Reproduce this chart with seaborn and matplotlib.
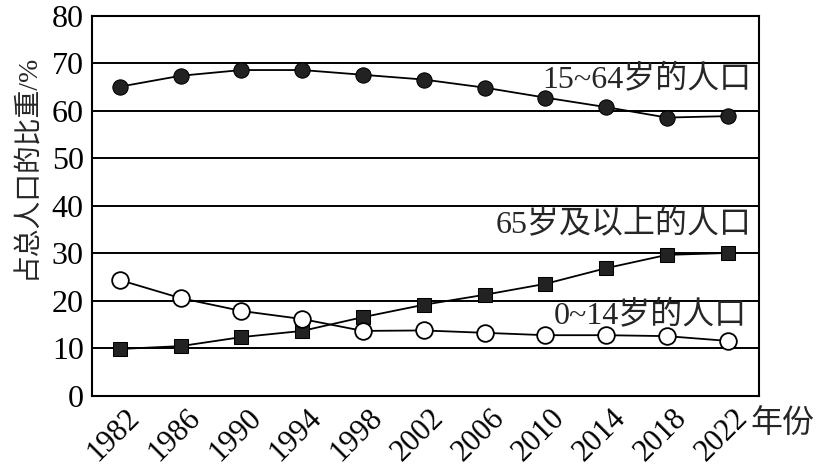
import matplotlib
matplotlib.use("Agg")
import matplotlib.pyplot as plt
import matplotlib.transforms as mtransforms
import seaborn as sns

# 数据
years = [1982, 1986, 1990, 1994, 1998, 2002, 2006, 2010, 2014, 2018, 2022]
age_15_64 = [65.1, 67.4, 68.6, 68.6, 67.6, 66.6, 64.9, 62.8, 60.8, 58.6, 58.9]
age_0_14 = [24.4, 20.6, 17.9, 16.2, 13.7, 13.8, 13.3, 12.8, 12.8, 12.6, 11.6]
age_65_up = [9.9, 10.5, 12.4, 13.7, 16.6, 19.2, 21.3, 23.6, 26.9, 29.7, 30.1]
yticks = [0, 10, 20, 30, 40, 50, 60, 70, 80]

sns.set_style("white")
fam = ["Liberation Serif", "Noto Sans CJK SC"]
plt.rcParams["font.family"] = fam

fig = plt.figure(figsize=(8.33, 4.67), dpi=100)
ax = fig.add_axes([0.1104, 0.152, 0.8003, 0.814])

ax.set_ylim(0, 80)
ax.set_xlim(1980.16, 2024.04)
ax.set_yticks(yticks)
ax.yaxis.grid(True, color="black", linewidth=1.4)
ax.set_axisbelow(True)

sns.lineplot(x=years, y=age_15_64, ax=ax, color="black", linewidth=1.3,
             marker="o", markersize=11, markerfacecolor="#222222",
             markeredgecolor="black")
sns.lineplot(x=years, y=age_65_up, ax=ax, color="black", linewidth=1.3,
             marker="s", markersize=10, markerfacecolor="#222222",
             markeredgecolor="black")
sns.lineplot(x=years, y=age_0_14, ax=ax, color="black", linewidth=1.3,
             marker="o", markersize=12, markerfacecolor="white",
             markeredgecolor="black", markeredgewidth=1.3)

for s in ax.spines.values():
    s.set_color("black")
    s.set_linewidth(1.5)

ax.set_xticks(years)
ax.set_xticklabels([str(y) for y in years], rotation=45, ha="right",
                   rotation_mode="anchor", fontsize=22)
ax.tick_params(axis="x", direction="in", length=10, width=1.3, pad=4,
               colors="black")
ax.tick_params(axis="y", length=0, pad=6, labelsize=23, colors="black")
shift = mtransforms.ScaledTranslation(5 / 100, -2 / 100, fig.dpi_scale_trans)
for lab in ax.get_xticklabels():
    lab.set_transform(lab.get_transform() + shift)

ax.set_ylabel("占总人口的比重/%", fontsize=20)
ax.yaxis.set_label_coords(-0.078, 0.605)
ax.text(2023.5, -6.0, "年份", fontsize=23, ha="left", va="center")

ax.text(2023.6, 66.4, "15~64岁的人口", fontsize=23, ha="right", va="center")
ax.text(2023.6, 35.9, "65岁及以上的人口", fontsize=23, ha="right", va="center")
ax.text(2023.3, 16.8, "0~14岁的人口", fontsize=23, ha="right", va="center")

fig.savefig("out.png", dpi=100)
